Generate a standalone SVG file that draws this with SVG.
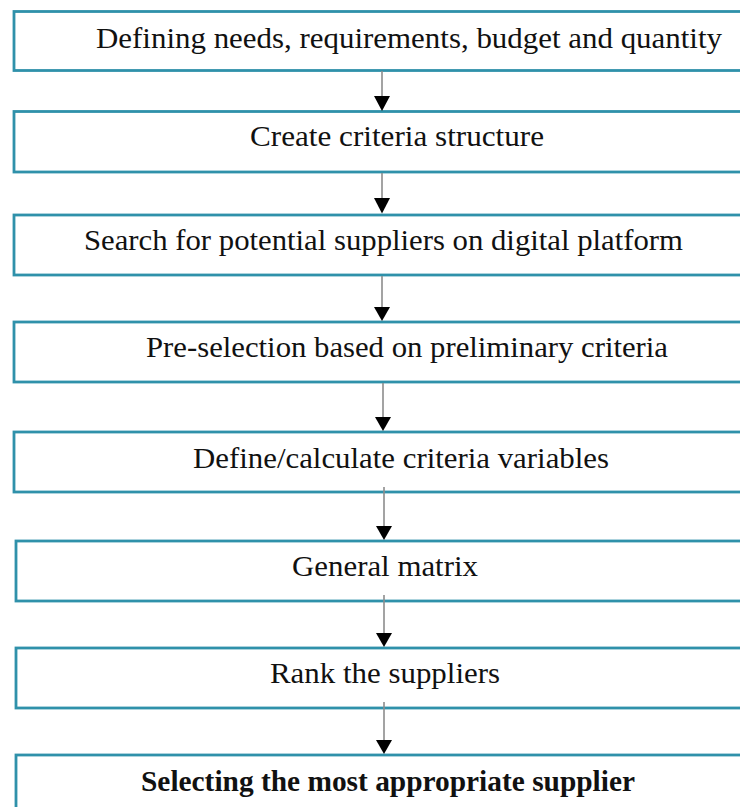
<svg xmlns="http://www.w3.org/2000/svg" width="740" height="807" viewBox="0 0 740 807">
  <defs>
    <style>
      .box { fill: #ffffff; stroke: #2f91aa; stroke-width: 2.8; }
      .lbl { font-family: "Liberation Serif", "Times New Roman", serif; font-size: 28.5px; fill: #111111; text-anchor: middle; }
      .bold { font-family: "Liberation Serif", "Times New Roman", serif; font-size: 29.5px; font-weight: bold; fill: #111111; text-anchor: middle; }
      .link { stroke: #8c8c8c; stroke-width: 1.6; fill: none; }
      .head { fill: #000000; }
    </style>
  </defs>
  <rect width="740" height="807" fill="#ffffff"/>

  <!-- boxes run off the right edge, so only three sides show -->
  <g id="step1">
    <rect class="box" x="14" y="11.5" width="750" height="59"/>
    <text class="lbl" x="409" y="48" textLength="626" lengthAdjust="spacingAndGlyphs">Defining needs, requirements, budget and quantity</text>
  </g>
  <g id="step2">
    <rect class="box" x="14" y="111.5" width="750" height="60.5"/>
    <text class="lbl" x="397" y="146" textLength="294" lengthAdjust="spacingAndGlyphs">Create criteria structure</text>
  </g>
  <g id="step3">
    <rect class="box" x="14" y="215" width="750" height="60"/>
    <text class="lbl" x="383.5" y="250" textLength="599" lengthAdjust="spacingAndGlyphs">Search for potential suppliers on digital platform</text>
  </g>
  <g id="step4">
    <rect class="box" x="14" y="322" width="750" height="60"/>
    <text class="lbl" x="407" y="357" textLength="522" lengthAdjust="spacingAndGlyphs">Pre-selection based on preliminary criteria</text>
  </g>
  <g id="step5">
    <rect class="box" x="14" y="432" width="750" height="60"/>
    <text class="lbl" x="401" y="468" textLength="416" lengthAdjust="spacingAndGlyphs">Define/calculate criteria variables</text>
  </g>
  <g id="step6">
    <rect class="box" x="16" y="541" width="748" height="60"/>
    <text class="lbl" x="385" y="576" textLength="186" lengthAdjust="spacingAndGlyphs">General matrix</text>
  </g>
  <g id="step7">
    <rect class="box" x="16" y="648" width="748" height="60"/>
    <text class="lbl" x="385" y="683" textLength="230" lengthAdjust="spacingAndGlyphs">Rank the suppliers</text>
  </g>
  <g id="step8">
    <rect class="box" x="16" y="755" width="748" height="70"/>
    <text class="bold" x="388" y="791" textLength="494" lengthAdjust="spacingAndGlyphs">Selecting the most appropriate supplier</text>
  </g>

  <g id="connectors">
    <line class="link" x1="382" y1="71" x2="382" y2="97"/>
    <polygon class="head" points="374,96 390,96 382,111"/>
    <line class="link" x1="382" y1="173" x2="382" y2="199"/>
    <polygon class="head" points="374,198 390,198 382,213.5"/>
    <line class="link" x1="382" y1="276" x2="382" y2="308"/>
    <polygon class="head" points="374,307 390,307 382,321"/>
    <line class="link" x1="383" y1="383" x2="383" y2="418"/>
    <polygon class="head" points="375,417 391,417 383,431"/>
    <line class="link" x1="384" y1="487" x2="384" y2="527"/>
    <polygon class="head" points="376,526 392,526 384,540"/>
    <line class="link" x1="384" y1="595" x2="384" y2="634"/>
    <polygon class="head" points="376,633 392,633 384,647"/>
    <line class="link" x1="384" y1="702" x2="384" y2="741"/>
    <polygon class="head" points="376,740 392,740 384,754"/>
  </g>
</svg>
